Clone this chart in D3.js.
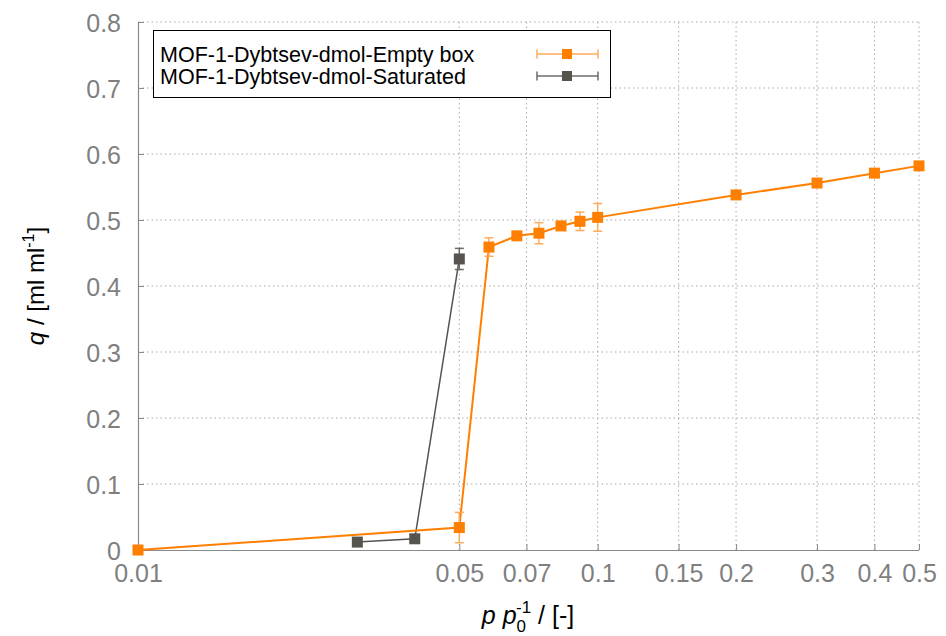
<!DOCTYPE html>
<html><head><meta charset="utf-8">
<script src="https://cdn.jsdelivr.net/npm/d3@7"></script>
<style>body{margin:0;background:#fff}svg{display:block}</style>
</head><body>
<svg id="c" width="946" height="636"></svg>
<script>
const emptyX = [0.01, 0.05, 0.058, 0.0667, 0.0745, 0.0832, 0.0915, 0.1, 0.2, 0.3, 0.4, 0.5];
const emptyY = [0.0, 0.034, 0.459, 0.476, 0.480, 0.491, 0.498, 0.504, 0.538, 0.556, 0.571, 0.582];
const emptyErr = [0, 0.023, 0.014, 0.004, 0.016, 0.005, 0.014, 0.021, 0.003, 0.003, 0.003, 0.003];
const satX = [0.03, 0.04, 0.05];
const satY = [0.012, 0.017, 0.441];
const satErr = [0.002, 0.002, 0.016];
const xTicks = [0.01, 0.05, 0.07, 0.1, 0.15, 0.2, 0.3, 0.4, 0.5];
const yTicks = [0, 0.1, 0.2, 0.3, 0.4, 0.5, 0.6, 0.7, 0.8];
const seriesNames = ["MOF-1-Dybtsev-dmol-Empty box", "MOF-1-Dybtsev-dmol-Saturated"];

const svg = d3.select("#c");
const L = 138, R = 919, T = 22, B = 550;
const x = d3.scaleLog().domain([0.01, 0.5]).range([L, R]);
const y = d3.scaleLinear().domain([0, 0.8]).range([B, T]);
const font = "'Liberation Sans', Arial, Helvetica, sans-serif";
const gridCol = "#a8a8a8", axisCol = "#8a8a8a", tickTxt = "#7f7f7f";

// grid
const g = svg.append("g");
g.selectAll(".gx").data(xTicks.slice(1)).join("line")
  .attr("x1", d => x(d)).attr("x2", d => x(d)).attr("y1", T).attr("y2", B)
  .attr("stroke", gridCol).attr("stroke-width", 1).attr("stroke-dasharray", "1.5,3");
g.selectAll(".gy").data(yTicks.slice(1)).join("line")
  .attr("x1", L).attr("x2", R).attr("y1", d => y(d)).attr("y2", d => y(d))
  .attr("stroke", gridCol).attr("stroke-width", 1).attr("stroke-dasharray", "1.5,3");

// axes using d3 axis
const xAxis = d3.axisBottom(x).tickValues(xTicks).tickSize(-6).tickPadding(14).tickFormat(d3.format("~g"));
const yAxis = d3.axisLeft(y).tickValues(yTicks).tickSize(-6).tickPadding(17).tickFormat(d3.format("~g"));
const gx = svg.append("g").attr("transform", `translate(0,${B})`).call(xAxis);
const gy = svg.append("g").attr("transform", `translate(${L},0)`).call(yAxis);
[gx, gy].forEach(a => {
  a.select(".domain").attr("stroke", axisCol).attr("stroke-width", 1.2);
  a.selectAll(".tick line").attr("stroke", axisCol);
  a.selectAll(".tick text").attr("fill", tickTxt).style("font-family", font).style("font-size", "25px");
});
gx.select(".domain").attr("d", `M${L},0.5H${R}`);
gy.select(".domain").attr("d", `M0.5,${B}V${T}`);
gy.selectAll(".tick text").attr("dy", "0.36em");

// axis titles
svg.append("text").attr("transform", "translate(44,286) rotate(-90)")
  .attr("text-anchor", "middle").style("font-family", font).style("font-size", "24px").attr("fill", "#000")
  .html('<tspan font-style="italic">q</tspan> / [ml ml<tspan dy="-10" font-size="16px">-1</tspan><tspan dy="10">]</tspan>');
const xt = svg.append("text").attr("x", 528).attr("y", 624)
  .attr("text-anchor", "middle").style("font-family", font).style("font-size", "25px").attr("fill", "#000");
xt.html('<tspan font-style="italic">p p</tspan><tspan dy="8" font-size="17px">0</tspan><tspan dy="-19" dx="-10" font-size="17px">-1</tspan><tspan dy="11"> / [-]</tspan>');

// series
const series = [
  {xs: emptyX, ys: emptyY, es: emptyErr, col: "#ff7f00", ecol: "#ffab5c", lw: 2},
  {xs: satX, ys: satY, es: satErr, col: "#57534e", ecol: "#6e6a66", lw: 1.5}
];
const line = d3.line().x(d => x(d[0])).y(d => y(d[1]));
series.slice().reverse().forEach(s => {
  const pts = s.xs.map((v, i) => [v, s.ys[i], s.es[i]]);
  svg.append("path").datum(pts).attr("d", line).attr("fill", "none")
    .attr("stroke", s.col).attr("stroke-width", s.lw);
});
series.slice().reverse().forEach(s => {
  const pts = s.xs.map((v, i) => [v, s.ys[i], s.es[i]]);
  const eg = svg.append("g").attr("stroke", s.ecol).attr("stroke-width", 1.5);
  pts.filter(d => d[2] > 0).forEach(d => {
    const cx = x(d[0]), y1 = y(d[1] - d[2]), y2 = y(d[1] + d[2]);
    eg.append("line").attr("x1", cx).attr("x2", cx).attr("y1", y1).attr("y2", y2);
    eg.append("line").attr("x1", cx - 4.5).attr("x2", cx + 4.5).attr("y1", y1).attr("y2", y1);
    eg.append("line").attr("x1", cx - 4.5).attr("x2", cx + 4.5).attr("y1", y2).attr("y2", y2);
  });
  svg.append("g").selectAll("rect").data(pts).join("rect")
    .attr("x", d => x(d[0]) - 5.5).attr("y", d => y(d[1]) - 5.5)
    .attr("width", 11).attr("height", 11).attr("fill", s.col);
});

// legend
const lg = svg.append("g");
lg.append("rect").attr("x", 153.5).attr("y", 30.5).attr("width", 457).attr("height", 67)
  .attr("fill", "#fff").attr("stroke", "#000").attr("stroke-width", 1);
seriesNames.forEach((n, i) => {
  const s = series[i], yy = 54 + i * 22;
  lg.append("text").attr("x", 160).attr("y", yy + 7.5).text(n)
    .style("font-family", font).style("font-size", "21.5px").attr("fill", "#000");
  lg.append("line").attr("x1", 537).attr("x2", 598).attr("y1", yy).attr("y2", yy)
    .attr("stroke", s.ecol).attr("stroke-width", 1.5);
  [537, 598].forEach(xx => lg.append("line").attr("x1", xx).attr("x2", xx).attr("y1", yy - 4.5).attr("y2", yy + 4.5)
    .attr("stroke", s.ecol).attr("stroke-width", 1.5));
  lg.append("rect").attr("x", 562).attr("y", yy - 5).attr("width", 10).attr("height", 10).attr("fill", s.col);
});
</script>
</body></html>
